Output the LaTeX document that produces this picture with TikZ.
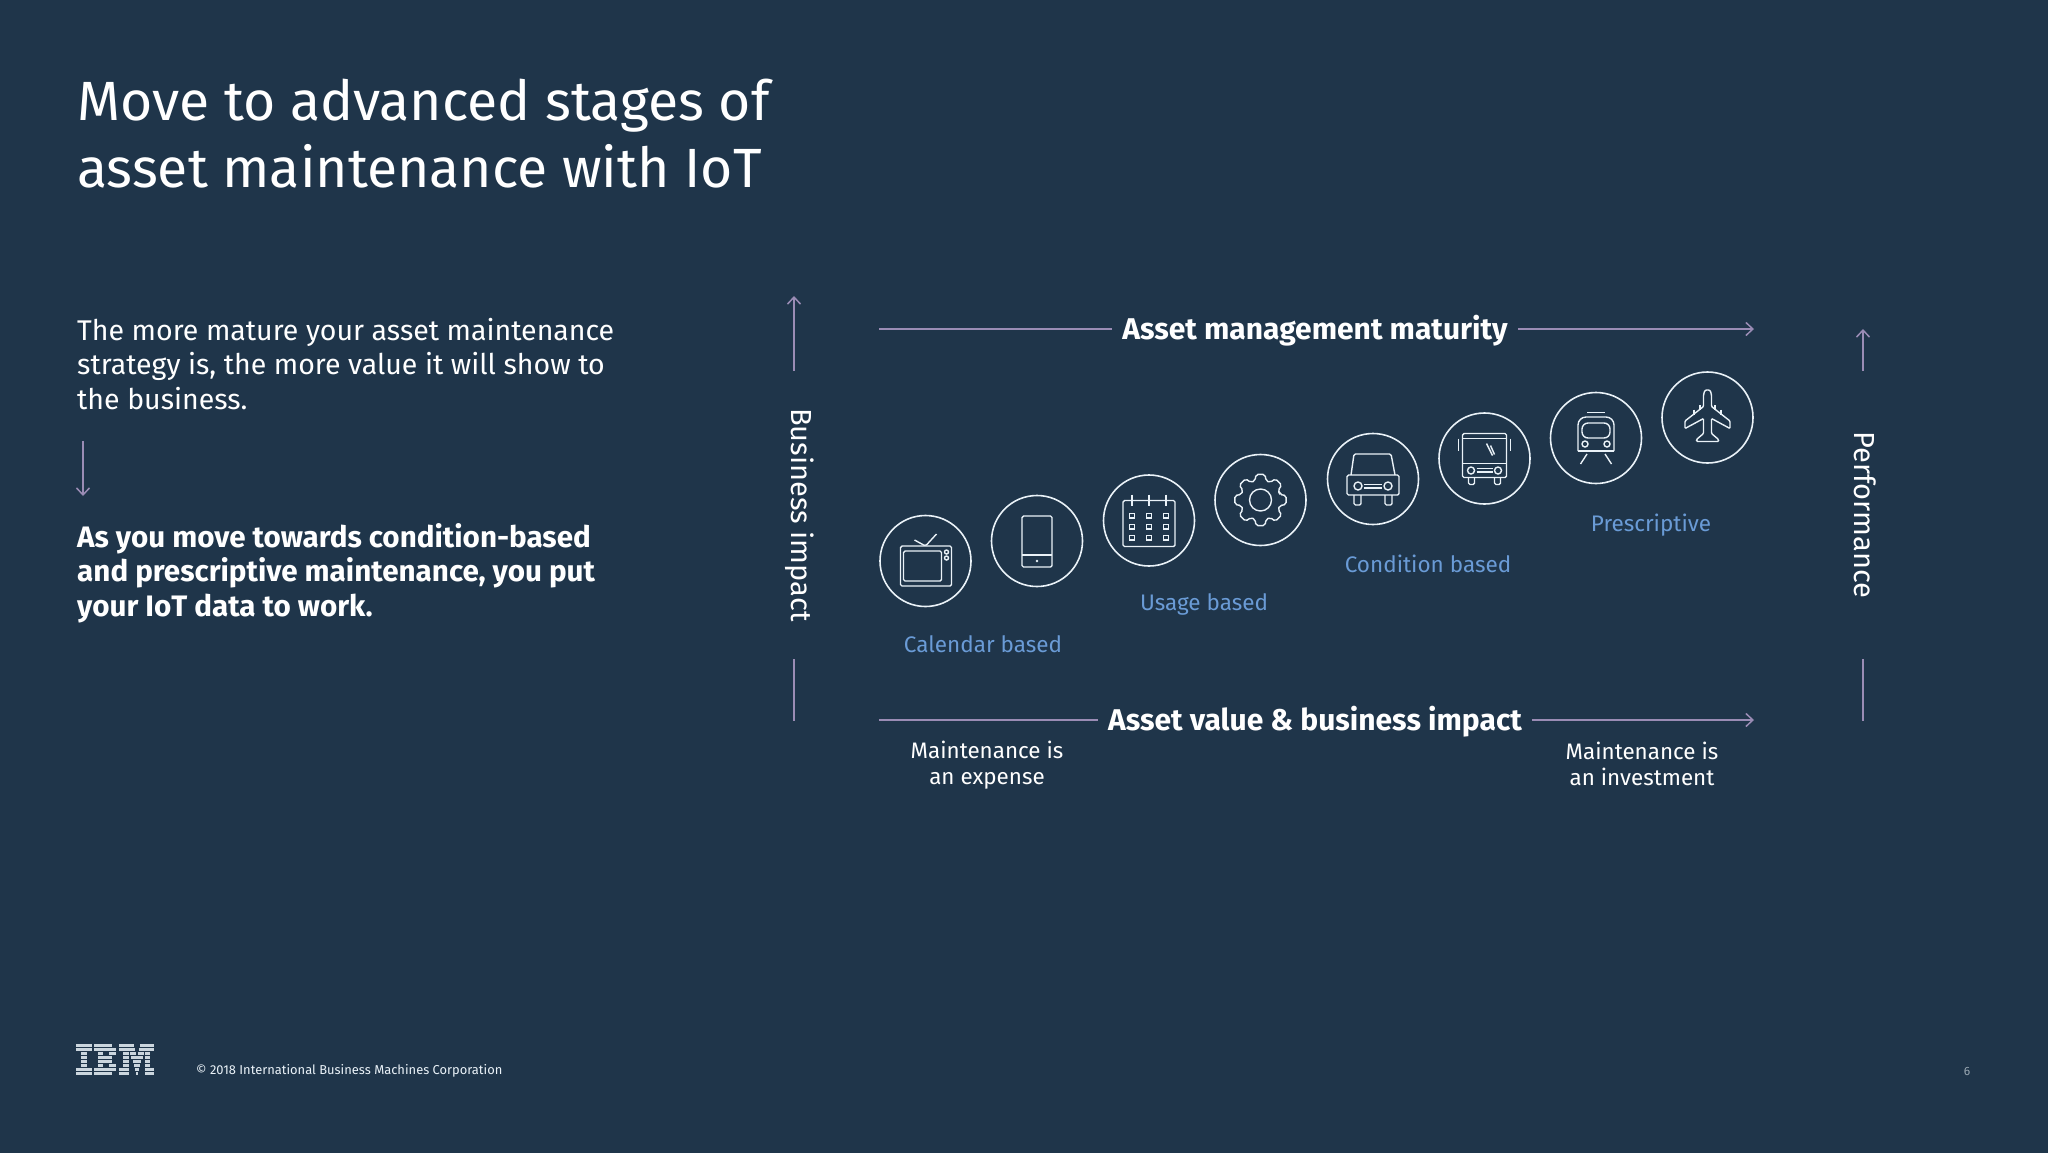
\documentclass[tikz,border=0pt]{standalone}
\usepackage{fontspec}
\setmainfont{Fira Sans}
\usetikzlibrary{arrows.meta}
\definecolor{slidebg}{HTML}{1F354A}
\definecolor{linepurple}{HTML}{9A8CB5}
\definecolor{labelblue}{HTML}{6A9BD6}
\definecolor{iconwhite}{HTML}{EAF2F8}
\tikzset{
    axisline/.style={draw=linepurple, line width=1.5pt},
    axisarrow/.style={axisline, -{Straight Barb[length=7pt, width=13pt, line width=1.5pt]}},
    iconcircle/.style={circle, draw=iconwhite, line width=1.6pt, minimum size=91pt, inner sep=0pt},
    icon/.style={draw=iconwhite, line width=1.4pt, rounded corners=1.5pt},
    stagelabel/.style={text=labelblue, text height=16pt, text depth=0pt, font=\fontsize{22.5}{28}\selectfont},
    axistitle/.style={text=white, text height=21pt, text depth=0pt, font=\bfseries\fontsize{30}{34}\selectfont, inner xsep=10pt},
    sidetitle/.style={text=white, rotate=-90, font=\fontsize{29}{34}\selectfont},
    endnote/.style={text=white, align=center, font=\fontsize{22.4}{26}\selectfont},
    tvicon/.pic={
        \draw[icon] (-25,-15) rectangle (26,25);
        \draw[icon] (-22,-10) rectangle (16,20);
        \draw[icon] (21,-9) circle (2) (21,-3) circle (2);
        \draw[icon] (-11,-21) -- (0,-15) -- (11,-27);
    },
    phoneicon/.pic={
        \draw[icon] (-15,-25) rectangle (15,26);
        \draw[icon] (-15,14) -- (15,14);
        \fill[iconwhite] (0,20) circle (1.3);
    },
    calendaricon/.pic={
        \draw[icon] (-26,-20) rectangle (26,26);
        \foreach \tickx in {-17,0,17} {
            \draw[icon] (\tickx,-26) -- (\tickx,-15);
            \foreach \boxy in {-5,6,17}
                \draw[icon, rounded corners=0pt] (\tickx-2.3,\boxy-2.3) rectangle (\tickx+2.3,\boxy+2.3);
        }
    },
    gearicon/.pic={
        \draw[icon, rounded corners=2pt] (-16:20) \foreach \toothangle in {0,45,...,315} {
            -- (\toothangle-16:20) -- (\toothangle-10:26) -- (\toothangle+10:26) -- (\toothangle+16:20)
        } -- cycle;
        \draw[icon] (0,0) circle (11);
    },
    caricon/.pic={
        \draw[icon] (-22,-4) -- (-19,-25) -- (18,-25) -- (22,-4);
        \draw[icon] (-26,-4) rectangle (26,16);
        \draw[icon] (-19,16) -- (-19,26) -- (-12,26) -- (-12,16);
        \draw[icon] (12,16) -- (12,26) -- (19,26) -- (19,16);
        \draw[icon] (-15,7) circle (4) (15,7) circle (4);
        \draw[icon] (-9,5.5) -- (9,5.5) (-9,9) -- (9,9);
    },
    busicon/.pic={
        \draw[icon] (-22,-25) rectangle (22,19);
        \draw[icon] (-22,-20) -- (22,-20) (-22,5) -- (22,5);
        \draw[icon] (-26,-20) -- (-26,-8) (26,-20) -- (26,-8);
        \draw[icon] (2,-15) -- (8,-3) (6,-13) -- (10,-4);
        \draw[icon] (-13.5,12) circle (3.5) (13.5,12) circle (3.5);
        \draw[icon] (-8,10) -- (8,10) (-8,13.5) -- (8,13.5);
        \draw[icon] (-16,19) -- (-16,26) -- (-10,26) -- (-10,19);
        \draw[icon] (10,19) -- (10,26) -- (16,26) -- (16,19);
    },
    trainicon/.pic={
        \draw[icon] (-9,-25.5) -- (9,-25.5);
        \draw[icon, rounded corners=8pt] (-18,13) -- (-18,-21) -- (18,-21) -- (18,13);
        \draw[icon] (-18,13) -- (18,13);
        \draw[icon, rounded corners=6pt] (-14,0) -- (-14,-15) -- (14,-15) -- (14,0) -- cycle;
        \draw[icon] (-11,6) circle (3) (11,6) circle (3);
        \draw[icon] (-9,16) -- (-15.5,26) (9,16) -- (15.5,26);
    },
    planeicon/.pic={
        \draw[icon, rounded corners=1pt] (-4,-21) to[out=90, in=180] (0,-27.5) to[out=0, in=90] (4,-21)
            -- (4,-11) -- (22.5,3.5) -- (22.5,11) -- (4,1) -- (4,16) -- (11,22) -- (11,24) -- (-11,24)
            -- (-11,22) -- (-4,16) -- (-4,1) -- (-22.5,11) -- (-22.5,3.5) -- (-4,-11) -- cycle;
        \draw[icon] (7.5,-12.5) -- (7.5,-7.5) (13.5,-8) -- (13.5,-2.5);
        \draw[icon] (-7.5,-12.5) -- (-7.5,-7.5) (-13.5,-8) -- (-13.5,-2.5);
    }
}

\begin{document}
\begin{tikzpicture}[x=1pt, y=-1pt]
    \useasboundingbox (0,0) rectangle (2048,1152);
    \fill[slidebg] (-4,-4) rectangle (2052,1156);

    % title and left column
    \node (title) at (77,134)[anchor=west, text=white, align=left, inner sep=0pt, font=\fontsize{55.3}{67}\selectfont] {Move to advanced stages of\\asset maintenance with IoT};
    \node (intro) at (77,364)[anchor=west, text=white, align=left, inner sep=0pt, font=\fontsize{28.5}{34.5}\selectfont] {The more mature your asset maintenance\\strategy is, the more value it will show to\\the business.};
    \node (outcome) at (77,573)[anchor=west, text=white, align=left, inner sep=0pt, font=\bfseries\fontsize{29.6}{34.5}\selectfont] {As you move towards condition-based\\and prescriptive maintenance, you put\\your IoT data to work.};
    \coordinate (outcome-arrow) at (83,496);
    \draw[axisarrow] ([yshift=-31pt]intro.south -| outcome-arrow) -- (outcome-arrow);

    % stage circles
    \node[iconcircle] (tv) at (925.5,561) {};
    \node[iconcircle] (phone) at (1037,541) {};
    \node[iconcircle] (calendar) at (1149,520.5) {};
    \node[iconcircle] (gear) at (1260.5,500) {};
    \node[iconcircle] (car) at (1373,479) {};
    \node[iconcircle] (bus) at (1484.5,458.5) {};
    \node[iconcircle] (train) at (1596,438) {};
    \node[iconcircle] (plane) at (1707.5,417.5) {};
    \path (tv) pic {tvicon};
    \path (phone) pic {phoneicon};
    \path (calendar) pic {calendaricon};
    \path (gear) pic {gearicon};
    \path (car) pic {caricon};
    \path (bus) pic {busicon};
    \path (train) pic {trainicon};
    \path (plane) pic {planeicon};

    \node[stagelabel] (calendar-based) at (983,644) {Calendar based};
    \node[stagelabel] (usage-based) at (1204,602.5) {Usage based};
    \node[stagelabel] (condition-based) at (1428,564) {Condition based};
    \node[stagelabel] (prescriptive) at (1651,523.5) {Prescriptive};

    % horizontal axes
    \node[axistitle] (maturity) at (1315,329) {Asset management maturity};
    \node[axistitle] (value) at (1315,720) {Asset value \& business impact};
    \coordinate (maturity-start) at (879,329);
    \coordinate (maturity-end) at (1754,329);
    \coordinate (value-start) at (879,720);
    \coordinate (value-end) at (1754,720);
    \draw[axisline] (maturity-start) -- (maturity);
    \draw[axisarrow] (maturity) -- (maturity-end);
    \draw[axisline] (value-start) -- (value);
    \draw[axisarrow] (value) -- (value-end);

    \node[endnote] (expense) at (987,765.5) {Maintenance is\\an expense};
    \node[endnote] (investment) at (1642,764) {Maintenance is\\an investment};

    % vertical axes
    \node[sidetitle, inner xsep=37pt] (business) at (799.5,515) {Business impact};
    \node[sidetitle, inner xsep=60pt] (performance) at (1865,515) {Performance};
    \coordinate (business-top) at (794,296);
    \coordinate (business-bottom) at (794,721);
    \coordinate (performance-top) at (1863,329);
    \coordinate (performance-bottom) at (1863,721);
    \draw[axisarrow] (business.west -| business-top) -- (business-top);
    \draw[axisline] (business.east -| business-bottom) -- (business-bottom);
    \draw[axisarrow] (performance.west -| performance-top) -- (performance-top);
    \draw[axisline] (performance.east -| performance-bottom) -- (performance-bottom);

    % logo
    \foreach \rowy/\segments in {
        1044/{76/92,94/112,119/134,140/154},
        1048/{76/92,94/116,119/135,139/154},
        1052/{81/87,98/103,109/116,123/129,130/136,138/144,145/150},
        1056/{81/87,98/112,123/129,131/143,145/150},
        1060/{81/87,98/112,123/129,133/141,145/150},
        1064/{81/87,98/103,109/116,123/129,134/140,145/150},
        1068/{76/92,94/116,119/129,135/139,145/154},
        1072/{76/92,94/112,119/129,136/138,145/154}}
        \foreach \segstart/\segend in \segments
            \fill[iconwhite!85!slidebg] (\segstart,\rowy) rectangle (\segend,\rowy+2.7);

    % footer
    \node (copyright) at (196,1071)[anchor=west, inner sep=0pt, text=iconwhite, font=\fontsize{12.9}{16}\selectfont] {© 2018 International Business Machines Corporation};
    \node (pagenumber) at (1967,1071)[inner sep=0pt, text=iconwhite!60!slidebg, font=\fontsize{12}{14}\selectfont] {6};
\end{tikzpicture}
\end{document}
